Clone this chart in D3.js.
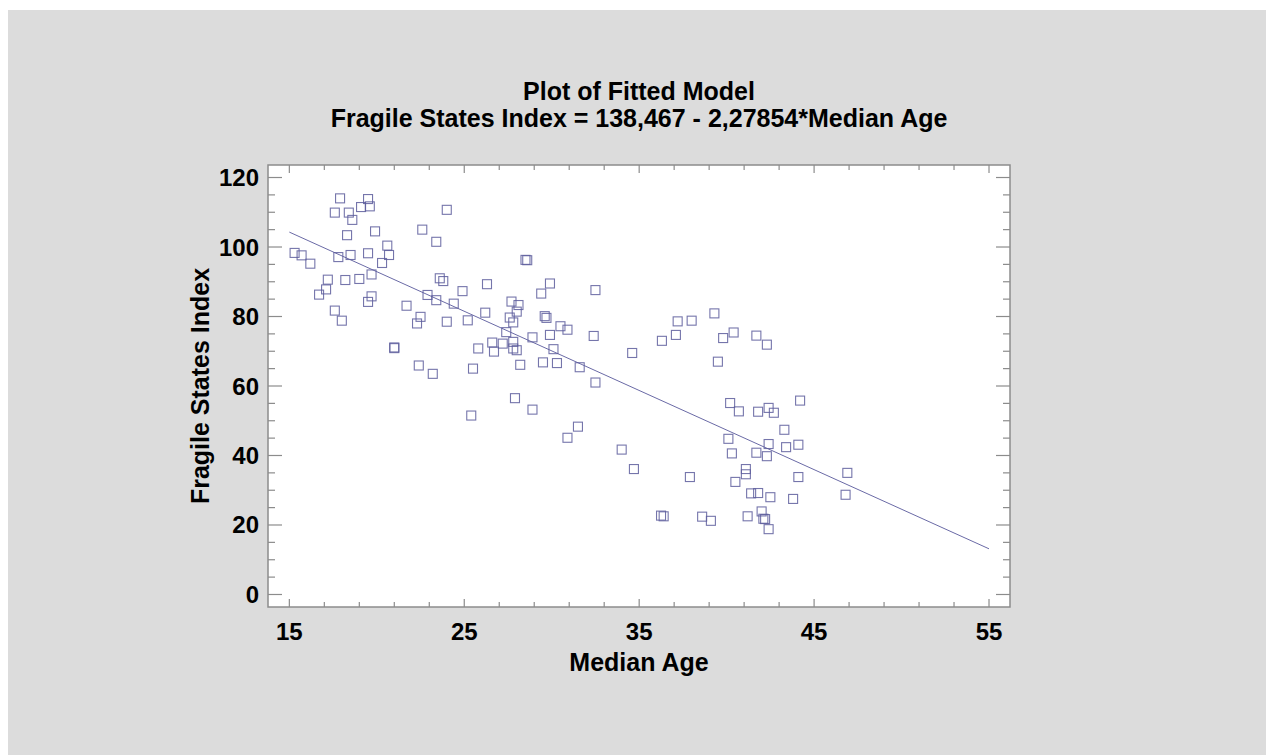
<!DOCTYPE html>
<html>
<head>
<meta charset="utf-8">
<script src="https://cdn.jsdelivr.net/npm/d3@7"></script>
<style>
  body { margin: 0; background: #fff; }
  svg text { font-family: "Liberation Sans", Arial, sans-serif; font-weight: bold; fill: #000; }
</style>
</head>
<body>
<div id="chart"></div>
<script>
// values: median age (x) and fragile states index (y)
const medianAge = [
  17.9, 19.5, 17.6, 18.4, 19.1, 19.6, 18.6, 24.0, 18.3, 19.9, 22.6, 23.4, 20.6, 15.3, 15.7,
  16.2, 17.8, 18.5, 19.5, 20.7, 20.3, 17.2, 18.2, 19.0, 19.7, 17.1, 16.7, 23.6, 23.8, 24.9,
  19.7, 19.5, 22.9, 23.4, 24.4, 21.7, 17.6, 18.0, 22.5, 22.3, 24.0, 25.2, 21.0, 21.0, 22.4,
  23.2,
  28.5, 28.6, 26.3, 29.9, 29.4, 32.5, 27.7, 28.1, 28.0, 26.2, 27.6, 27.8, 29.6, 29.7, 30.5,
  30.9, 27.4, 28.9, 29.9, 32.4, 36.3, 26.6, 27.2, 27.8, 25.8, 26.7, 27.8, 28.0, 30.1, 34.6,
  28.2, 29.5, 30.3, 31.6, 25.5,
  32.5, 27.9, 28.9, 25.4, 31.5, 30.9, 34.0, 34.7, 37.9, 36.25, 36.4, 38.6, 39.1,
  39.3, 37.2, 38.0, 37.1, 39.8, 40.4, 41.7, 42.3, 39.5, 40.2, 40.7, 41.8, 42.4, 42.7, 44.2,
  43.3, 40.1, 42.4, 43.4, 44.1, 40.3, 41.7, 42.3, 41.1, 41.1, 40.5, 44.1, 46.9, 41.4, 41.8,
  42.5, 43.8, 46.8, 41.2, 42.0, 42.1, 42.2, 42.4
]
const fsiValues = [
  114.0, 113.8, 109.9, 109.9, 111.5, 111.7, 107.8, 110.7, 103.4, 104.5, 105.0, 101.5, 100.4, 98.3, 97.6,
  95.2, 97.1, 97.7, 98.2, 97.7, 95.4, 90.6, 90.5, 90.8, 92.1, 87.8, 86.3, 91.0, 90.2, 87.3,
  85.8, 84.2, 86.2, 84.7, 83.7, 83.1, 81.7, 78.8, 79.9, 78.0, 78.5, 78.9, 71.1, 70.9, 65.9,
  63.5,
  96.3, 96.2, 89.3, 89.5, 86.6, 87.6, 84.3, 83.3, 81.4, 81.1, 79.7, 78.3, 80.1, 79.6, 77.2,
  76.2, 75.5, 74.0, 74.7, 74.4, 73.0, 72.5, 72.2, 72.7, 70.8, 69.9, 70.8, 70.3, 70.6, 69.5,
  66.1, 66.8, 66.6, 65.4, 65.0,
  61.0, 56.5, 53.2, 51.5, 48.3, 45.1, 41.7, 36.1, 33.8, 22.7, 22.5, 22.4, 21.2,
  80.9, 78.6, 78.8, 74.7, 73.8, 75.4, 74.5, 71.9, 67.0, 55.1, 52.7, 52.6, 53.7, 52.3, 55.8,
  47.4, 44.8, 43.3, 42.4, 43.1, 40.6, 40.8, 39.8, 36.1, 34.6, 32.4, 33.8, 35.0, 29.1, 29.2,
  28.0, 27.5, 28.7, 22.5, 23.9, 21.8, 21.7, 18.8
]
const intercept = 138.467
const slope = -2.27854
const fitRange = [15, 55]

const xTicks = [15, 25, 35, 45, 55]
const yTicks = [0, 20, 40, 60, 80, 100, 120]
const xMinorTicks = d3.range(15, 56, 2)
const yMinorTicks = d3.range(0, 121, 5)

const titleLines = ["Plot of Fitted Model", "Fragile States Index = 138,467 - 2,27854*Median Age"]
const xLabel = "Median Age"
const yLabel = "Fragile States Index"

const width = 1266, height = 755
const frame = {left: 268, right: 1010, top: 165, bottom: 607}
const axisColor = "#8c8c8c"
const markColor = "#5d5d9c"

const points = medianAge.map((x, i) => ({x, y: fsiValues[i]}))

const scaleX = d3.scaleLinear()
  .domain([13.78, 56.2])
  .range([frame.left, frame.right])

const scaleY = d3.scaleLinear()
  .domain([-3.6, 123.6])
  .range([frame.bottom, frame.top])

const svg = d3.create("svg")
  .attr("width", width)
  .attr("height", height)

svg.append("rect")
  .attr("x", 8).attr("y", 10)
  .attr("width", width - 8).attr("height", height - 10)
  .attr("fill", "#dcdcdc")

svg.append("rect")
  .attr("x", frame.left).attr("y", frame.top)
  .attr("width", frame.right - frame.left)
  .attr("height", frame.bottom - frame.top)
  .attr("fill", "#fff")

// ticks on all four sides, pointing inward
const tickLen = (isMajor, major, minor) => isMajor ? major : minor
const ticks = svg.append("g")
  .attr("stroke", axisColor)
  .attr("stroke-width", 1.2)

ticks.selectAll(".xb")
  .data(xMinorTicks)
  .join("line")
    .attr("x1", d => scaleX(d)).attr("x2", d => scaleX(d))
    .attr("y1", frame.bottom)
    .attr("y2", d => frame.bottom - tickLen(xTicks.includes(d), 8, 5))

ticks.selectAll(".xt")
  .data(xMinorTicks)
  .join("line")
    .attr("x1", d => scaleX(d)).attr("x2", d => scaleX(d))
    .attr("y1", frame.top)
    .attr("y2", d => frame.top + tickLen(xTicks.includes(d), 8, 5))

ticks.selectAll(".yl")
  .data(yMinorTicks)
  .join("line")
    .attr("y1", d => scaleY(d)).attr("y2", d => scaleY(d))
    .attr("x1", frame.left)
    .attr("x2", d => frame.left + tickLen(yTicks.includes(d), 14, 7))

ticks.selectAll(".yr")
  .data(yMinorTicks)
  .join("line")
    .attr("y1", d => scaleY(d)).attr("y2", d => scaleY(d))
    .attr("x1", frame.right)
    .attr("x2", d => frame.right - tickLen(yTicks.includes(d), 14, 7))

svg.append("rect")
  .attr("x", frame.left).attr("y", frame.top)
  .attr("width", frame.right - frame.left)
  .attr("height", frame.bottom - frame.top)
  .attr("fill", "none")
  .attr("stroke", axisColor)
  .attr("stroke-width", 1.5)

// tick labels
svg.append("g")
  .attr("font-size", 24)
  .attr("text-anchor", "middle")
  .selectAll("text")
  .data(xTicks)
  .join("text")
    .attr("x", d => scaleX(d))
    .attr("y", 640)
    .text(d => d)

svg.append("g")
  .attr("font-size", 24)
  .attr("text-anchor", "end")
  .selectAll("text")
  .data(yTicks)
  .join("text")
    .attr("x", 259)
    .attr("y", d => scaleY(d) + 8.5)
    .text(d => d)

// fitted line
const line = d3.line()
  .x(d => scaleX(d))
  .y(d => scaleY(intercept + slope * d))

svg.append("path")
  .datum(fitRange)
  .attr("d", line)
  .attr("fill", "none")
  .attr("stroke", "#6a6aa6")
  .attr("stroke-width", 1)

// observations
const size = 9
svg.append("g")
  .attr("fill", "none")
  .attr("stroke", markColor)
  .attr("stroke-opacity", 0.85)
  .attr("stroke-width", 1.1)
  .selectAll("rect")
  .data(points)
  .join("rect")
    .attr("x", d => scaleX(d.x) - size / 2)
    .attr("y", d => scaleY(d.y) - size / 2)
    .attr("width", size)
    .attr("height", size)

// titles
svg.append("g")
  .attr("font-size", 25)
  .attr("text-anchor", "middle")
  .selectAll("text")
  .data(titleLines)
  .join("text")
    .attr("x", 639)
    .attr("y", (d, i) => 100 + i * 27)
    .text(d => d)

svg.append("text")
  .attr("x", 639)
  .attr("y", 671)
  .attr("font-size", 25)
  .attr("text-anchor", "middle")
  .text(xLabel)

svg.append("text")
  .attr("transform", `translate(209,${(frame.top + frame.bottom) / 2}) rotate(-90)`)
  .attr("font-size", 25)
  .attr("text-anchor", "middle")
  .text(yLabel)

d3.select("#chart").append(() => svg.node())
</script>
</body>
</html>
